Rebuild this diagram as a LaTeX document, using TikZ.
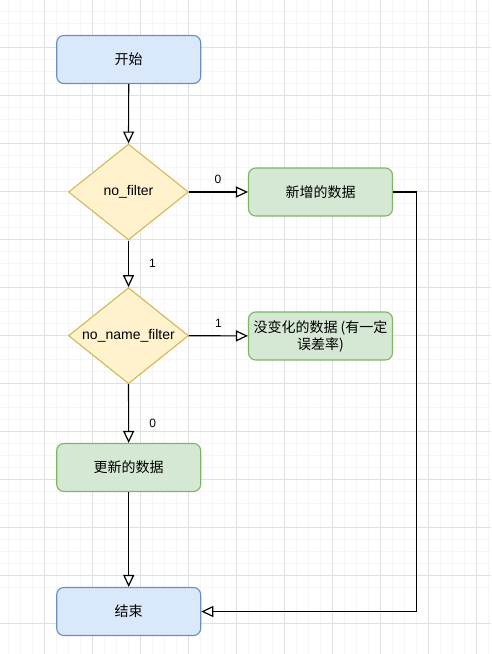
\documentclass[tikz,border=0pt]{standalone}
\usepackage{fontspec}
\setmainfont{Liberation Sans}
\newfontfamily\cjk{Noto Sans CJK SC}
\usetikzlibrary{shapes.geometric,arrows.meta}
\definecolor{bfill}{HTML}{DAE8FC}\definecolor{bline}{HTML}{6C8EBF}
\definecolor{yfill}{HTML}{FFF2CC}\definecolor{yline}{HTML}{D6B656}
\definecolor{gfill}{HTML}{D5E8D4}\definecolor{gline}{HTML}{82B366}
\definecolor{gmaj}{HTML}{E0E0E0}\definecolor{gmin}{HTML}{F5F5F5}
\tikzset{
  box/.style={rectangle,rounded corners=7.2pt,minimum width=144pt,minimum height=48pt,line width=1.1pt,align=center,inner sep=1pt,font=\fontsize{14}{17}\selectfont\cjk},
  bluebox/.style={box,fill=bfill,draw=bline},
  greenbox/.style={box,fill=gfill,draw=gline},
  decision/.style={diamond,aspect=1.25,minimum width=120pt,minimum height=96pt,inner sep=0pt,fill=yfill,draw=yline,line width=1.1pt,font=\fontsize{14}{17}\selectfont},
  conn/.style={line width=1.2pt,-{Triangle[open,length=12pt,width=11pt,fill=white]}},
  lbl/.style={font=\fontsize{12}{14}\selectfont,inner sep=0pt}
}
\begin{document}
\begin{tikzpicture}[x=1pt,y=-1pt]
\useasboundingbox (0,0) rectangle (491,654);
% grid
\foreach \i in {-4,...,45} {
  \draw[gmin,line width=0.6pt] (44+12*\i,0) -- (44+12*\i,654);
  \draw[gmin,line width=0.6pt] (0,47+12*\i) -- (491,47+12*\i);
}
\foreach \i in {-1,...,10} {
  \draw[gmaj,line width=0.8pt] (44+48*\i,0) -- (44+48*\i,654);
}
\foreach \i in {-1,...,13} {
  \draw[gmaj,line width=0.8pt] (0,47+48*\i) -- (491,47+48*\i);
}
% nodes
\node[bluebox] (start) at (128.7,59.5) {开始};
\node[decision] (f1) at (128.5,192) {no\_filter};
\node[greenbox] (new) at (320.5,192) {新增的数据};
\node[decision] (f2) at (128.5,335.7) {no\_name\_filter};
\node[greenbox] (same) at (320.5,336) {没变化的数据 (有一定\\误差率)};
\node[greenbox] (upd) at (128.7,467.5) {更新的数据};
\node[bluebox] (end) at (128.7,611.5) {结束};
\coordinate (corner1) at (416.7,192);
\coordinate (corner2) at (416.7,611.5);
% connectors
\draw[conn] (start) -- (f1);
\draw[conn] (f1) -- (new);
\draw[conn] (f1) -- (f2);
\draw[conn] (f2) -- (same);
\draw[conn] (f2) -- (upd);
\draw[conn] (upd) -- (end);
\draw[conn] (new.east) -- (corner1) -- (corner2) -- (end.east);
% labels
\node[lbl] (l0a) at (218,179) {0};
\node[lbl] (l1a) at (152.5,263.5) {1};
\node[lbl] (l1b) at (218.5,323) {1};
\node[lbl] (l0b) at (152.7,423.3) {0};
\end{tikzpicture}
\end{document}
